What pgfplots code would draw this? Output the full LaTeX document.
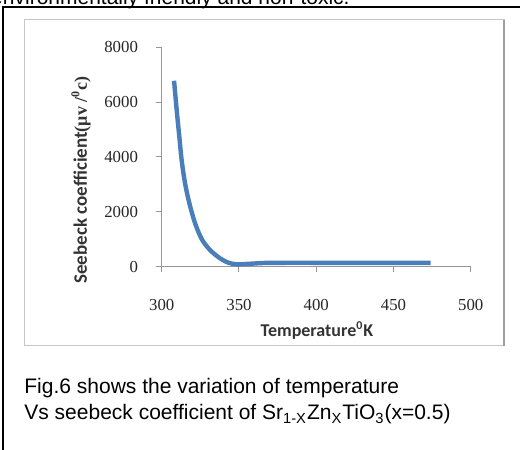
\documentclass[border=0pt]{standalone}
\usepackage{fontspec}
\setmainfont{Liberation Sans}
\newfontfamily\calfont{Carlito}
\newfontfamily\serfont{Liberation Serif}
\usepackage{pgfplots}
\pgfplotsset{compat=1.18}
\definecolor{lineblue}{RGB}{74,126,187}
\definecolor{axgray}{RGB}{150,150,150}
\begin{document}
\begin{tikzpicture}[x=0.5pt,y=0.5pt]
\useasboundingbox (0,0) rectangle (520,450);
\clip (0,0) rectangle (520,450);
\node[anchor=base east, font=\fontsize{10.5}{12}\selectfont, inner sep=0pt] at (350,445.3) {environmentally friendly and non-toxic.};
\draw[line width=0.8pt] (530,442.7) -- (3.3,442.7) -- (3.3,-10);
\draw[gray!45, line width=0.5pt] (24,430) rectangle (504.3,104.3);
\draw[gray!75, line width=0.9pt] (504.3,430) -- (504.3,104.3);
\begin{axis}[
  at={(80.85pt,91.75pt)}, anchor=south west, scale only axis,
  width=154.5pt, height=109.6pt,
  xmin=300,xmax=500,ymin=0,ymax=8000,
  axis x line=bottom, axis y line=left,
  axis line style={-, draw=axgray, line width=0.5pt},
  tick style={draw=axgray, line width=0.5pt},
  tick align=outside, major tick length=3pt,
  xtick={300,350,...,500}, ytick={0,2000,...,8000},
  scaled ticks=false,
  /pgf/number format/1000 sep={},
  /pgf/number format/assume math mode=true,
  tick label style={font=\serfont\fontsize{8.4}{10}\selectfont, inner sep=0pt, text=black!85},
  xticklabel shift=13.2pt, yticklabel shift=8.7pt,
  clip=false,
]
\addplot[lineblue, line width=2.2pt, smooth] coordinates {
(308,6780) (309.7,5710) (311.4,4740) (312.9,3890) (315.1,3040) (317.9,2310)
(321.6,1580) (325.9,1000) (331.3,600) (337.7,300) (343.1,140) (348.5,80)
(357,100) (367,130) (380,135) (400,135) (420,135) (440,135) (460,135) (474,135)
};
\end{axis}
\node[font=\calfont\bfseries\fontsize{9}{10}\selectfont, anchor=base, inner sep=0pt, text=black!80] at (317,113.3) {Temperature\textsuperscript{0}K};
\node[rotate=90, inner sep=0pt, text=black!80] at (81,270) {{\calfont\bfseries\fontsize{9.5}{11}\selectfont Seebeck coefficient}{\serfont\bfseries\fontsize{9}{11}\selectfont(μv /\textsuperscript{0}c)}};
\node[anchor=base west, inner sep=0pt, font=\fontsize{10.5}{12}\selectfont] at (24,56.7) {Fig.6 shows the variation of temperature};
\node[anchor=base west, inner sep=0pt, font=\fontsize{10.5}{12}\selectfont] at (24,30) {Vs seebeck coefficient of Sr\textsubscript{1-X}Zn\textsubscript{X}TiO\textsubscript{3}(x=0.5)};
\end{tikzpicture}
\end{document}
